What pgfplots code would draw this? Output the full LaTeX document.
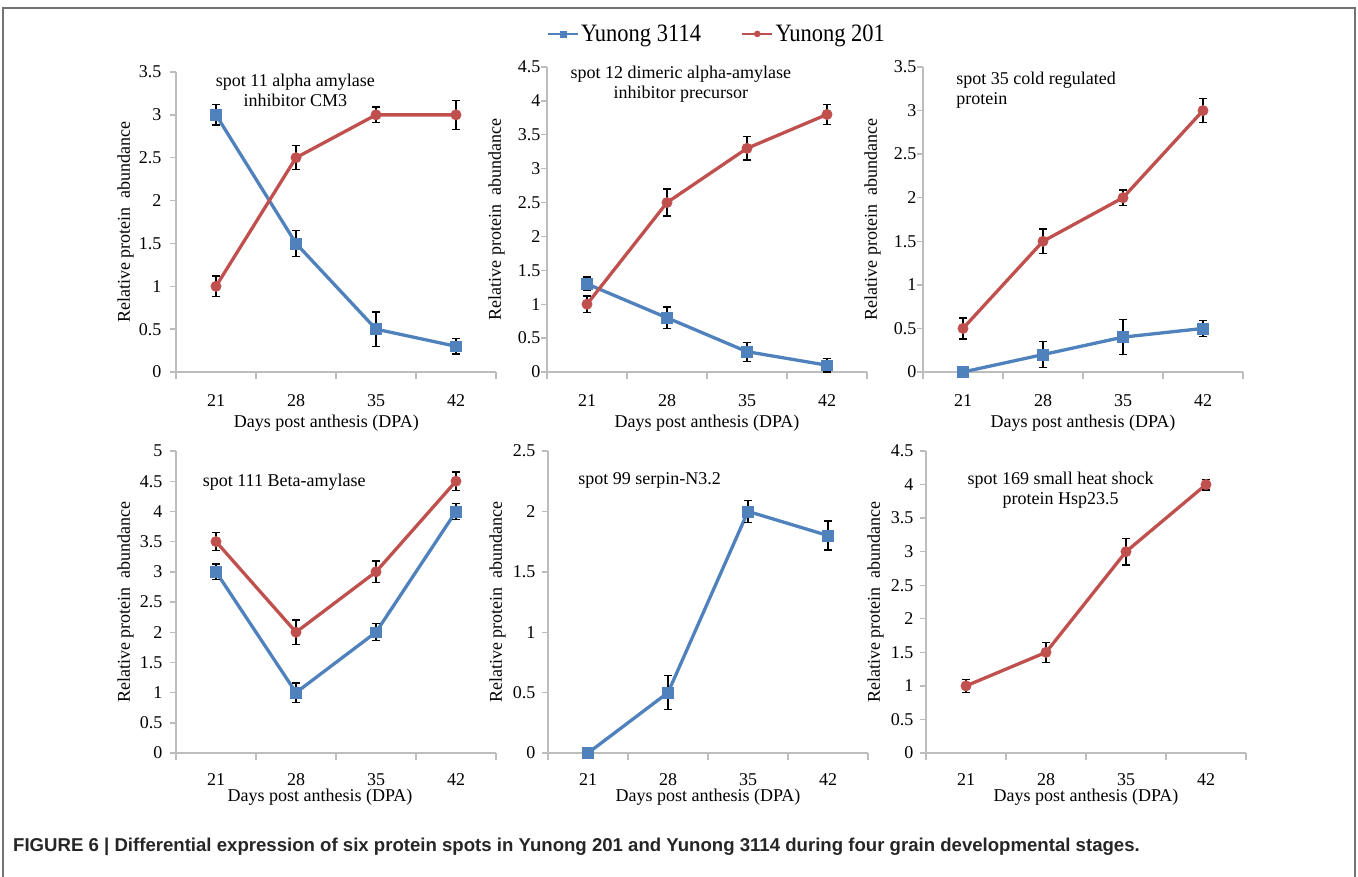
\documentclass[border=0pt]{standalone}
\usepackage{fontspec}
\setmainfont{Liberation Serif}
\newfontfamily\capfont{Liberation Sans}
\usepackage{pgfplots}
\pgfplotsset{compat=1.18}
\definecolor{cblue}{HTML}{4F81BD}
\definecolor{cred}{HTML}{C0504D}
\definecolor{axgray}{HTML}{BDBDBD}
\newcommand{\lbl}{\fontsize{18}{20}\selectfont}
\pgfplotsset{
  panel/.style={
    scale only axis, width=320pt,
    xmin=17.5, xmax=45.5, ymin=0,
    axis x line*=bottom, axis y line*=left,
    axis line style={axgray, line width=1.4pt, -},
    tick align=outside,
    xtick={21,28,35,42},
    minor xtick={17.5,24.5,31.5,38.5,45.5},
    major x tick style={draw=none},
    minor x tick style={axgray, line width=1.4pt},
    ytick style={axgray, line width=1.4pt},
    major tick length=6pt, minor tick length=7pt,
    ytick distance=0.5,
    /pgf/number format/assume math mode=true,
    tick label style={font=\lbl, text=black},
    xlabel={Days post anthesis (DPA)},
    ylabel={Relative protein\ \ abundance},
    every axis y label/.style={at={(axis description cs:-0.158,0.5)}, rotate=90, anchor=center, font=\lbl},
    clip=false,
  },
  s3114/.style={cblue, line width=3.3pt, mark=square*, mark size=5.4pt, mark options={solid, fill=cblue, draw=cblue, line width=0.5pt}},
  s201/.style={cred, line width=3.3pt, mark=*, mark size=5.2pt, mark options={solid, fill=cred, draw=cred, line width=0.5pt}},
  ebar/.style={draw=none, mark=none, forget plot,
    error bars/.cd, y dir=both, y explicit,
    error bar style={draw=black, line width=1.3pt, solid},
    error mark options={rotate=90, draw=black, line width=1.3pt, mark size=4pt}},
}
\begin{document}
\begin{tikzpicture}
\path[use as bounding box] (0pt,0pt) rectangle (1358pt,-877pt);
\draw[black!55, line width=1.5pt] (3pt,-877pt) -- (3pt,-8pt) -- (1355pt,-8pt) -- (1355pt,-877pt);

% Panel 1
\begin{axis}[panel, at={(176pt,-372pt)}, anchor=south west, height=300pt, ymax=3.5,
  yticklabel style={xshift=-5pt}, xticklabel style={yshift=-13pt},
  every axis x label/.style={at={(axis description cs:0.47,0)}, anchor=center, yshift=-51pt, font=\lbl},
  legend columns=2,
  legend style={at={(axis description cs:1.69,1.127)}, anchor=center, draw=none, fill=none,
    font=\fontsize{25}{27}\selectfont, /tikz/every even column/.append style={column sep=38pt}},
  legend image code/.code={\draw[mark repeat=2, mark phase=2, #1] plot coordinates {(0pt,0pt) (15pt,0pt) (30pt,0pt)};},
  legend image post style={mark size=3pt, line width=2.6pt},
]
\addplot[s3114] coordinates {(21,3.0) (28,1.5) (35,0.5) (42,0.3)};
\addlegendentry{\scalebox{0.9}[1]{Yunong 3114}}
\addplot[ebar] coordinates {(21,3.0) +- (0,0.12) (28,1.5) +- (0,0.15) (35,0.5) +- (0,0.2) (42,0.3) +- (0,0.09)};
\addplot[s201] coordinates {(21,1.0) (28,2.5) (35,3.0) (42,3.0)};
\addlegendentry{\scalebox{0.9}[1]{Yunong 201}}
\addplot[ebar] coordinates {(21,1.0) +- (0,0.12) (28,2.5) +- (0,0.14) (35,3.0) +- (0,0.09) (42,3.0) +- (0,0.17)};
\node[font=\lbl, align=center, anchor=center] at (axis description cs:0.373,0.94) {spot 11 alpha amylase\\inhibitor CM3};
\end{axis}

% Panel 2
\begin{axis}[panel, at={(547pt,-372pt)}, anchor=south west, height=305pt, ymax=4.5,
  yticklabel style={xshift=3pt}, xticklabel style={yshift=-13pt},
  every axis x label/.style={at={(axis description cs:0.5,0)}, anchor=center, yshift=-51pt, font=\lbl},
]
\addplot[s3114] coordinates {(21,1.3) (28,0.8) (35,0.3) (42,0.1)};
\addplot[ebar] coordinates {(21,1.3) +- (0,0.1) (28,0.8) +- (0,0.16) (35,0.3) +- (0,0.14) (42,0.1) +- (0,0.1)};
\addplot[s201] coordinates {(21,1.0) (28,2.5) (35,3.3) (42,3.8)};
\addplot[ebar] coordinates {(21,1.0) +- (0,0.12) (28,2.5) +- (0,0.2) (35,3.3) +- (0,0.17) (42,3.8) +- (0,0.15)};
\node[font=\lbl, align=center, anchor=center] at (axis description cs:0.418,0.944) {spot 12 dimeric alpha-amylase\\inhibitor precursor};
\end{axis}

% Panel 3
\begin{axis}[panel, at={(923pt,-372pt)}, anchor=south west, height=305pt, ymax=3.5,
  yticklabel style={xshift=3pt}, xticklabel style={yshift=-13pt},
  every axis x label/.style={at={(axis description cs:0.5,0)}, anchor=center, yshift=-51pt, font=\lbl},
]
\addplot[s3114] coordinates {(21,0) (28,0.2) (35,0.4) (42,0.5)};
\addplot[ebar] coordinates {(28,0.2) +- (0,0.15) (35,0.4) +- (0,0.2) (42,0.5) +- (0,0.09)};
\addplot[s201] coordinates {(21,0.5) (28,1.5) (35,2.0) (42,3.0)};
\addplot[ebar] coordinates {(21,0.5) +- (0,0.12) (28,1.5) +- (0,0.14) (35,2.0) +- (0,0.09) (42,3.0) +- (0,0.14)};
\node[font=\lbl, align=left, anchor=west] at (axis description cs:0.093,0.923) {spot 35 cold regulated\\protein};
\end{axis}

% Panel 4
\begin{axis}[panel, at={(176pt,-753pt)}, anchor=south west, height=302pt, ymax=5,
  yticklabel style={xshift=-4pt}, xticklabel style={yshift=-11pt},
  every axis x label/.style={at={(axis description cs:0.45,0)}, anchor=center, yshift=-44pt, font=\lbl},
]
\addplot[s3114] coordinates {(21,3.0) (28,1.0) (35,2.0) (42,4.0)};
\addplot[ebar] coordinates {(21,3.0) +- (0,0.13) (28,1.0) +- (0,0.16) (35,2.0) +- (0,0.14) (42,4.0) +- (0,0.13)};
\addplot[s201] coordinates {(21,3.5) (28,2.0) (35,3.0) (42,4.5)};
\addplot[ebar] coordinates {(21,3.5) +- (0,0.15) (28,2.0) +- (0,0.2) (35,3.0) +- (0,0.18) (42,4.5) +- (0,0.15)};
\node[font=\lbl, anchor=west] at (axis description cs:0.073,0.898) {spot 111 Beta-amylase};
\end{axis}

% Panel 5
\begin{axis}[panel, at={(548pt,-753pt)}, anchor=south west, height=302pt, ymax=2.5,
  yticklabel style={xshift=-3pt}, xticklabel style={yshift=-11pt},
  every axis x label/.style={at={(axis description cs:0.5,0)}, anchor=center, yshift=-44pt, font=\lbl},
]
\addplot[s3114] coordinates {(21,0) (28,0.5) (35,2.0) (42,1.8)};
\addplot[ebar] coordinates {(28,0.5) +- (0,0.14) (35,2.0) +- (0,0.09) (42,1.8) +- (0,0.12)};
\node[font=\lbl, anchor=west] at (axis description cs:0.084,0.904) {spot 99 serpin-N3.2};
\end{axis}

% Panel 6
\begin{axis}[panel, at={(926pt,-753pt)}, anchor=south west, height=302pt, ymax=4.5,
  yticklabel style={xshift=-3pt}, xticklabel style={yshift=-11pt},
  every axis x label/.style={at={(axis description cs:0.5,0)}, anchor=center, yshift=-44pt, font=\lbl},
]
\addplot[s201] coordinates {(21,1.0) (28,1.5) (35,3.0) (42,4.0)};
\addplot[ebar] coordinates {(21,1.0) +- (0,0.1) (28,1.5) +- (0,0.15) (35,3.0) +- (0,0.2) (42,4.0) +- (0,0.08)};
\node[font=\lbl, align=center, anchor=center] at (axis description cs:0.421,0.870) {spot 169 small heat shock\\protein Hsp23.5};
\end{axis}

\node[anchor=west, inner sep=0pt, font=\capfont\bfseries\fontsize{18.6}{20}\selectfont, text=black!85] at (13pt,-847pt) {FIGURE 6 | Differential expression of six protein spots in Yunong 201 and Yunong 3114 during four grain developmental stages.};
\end{tikzpicture}
\end{document}
